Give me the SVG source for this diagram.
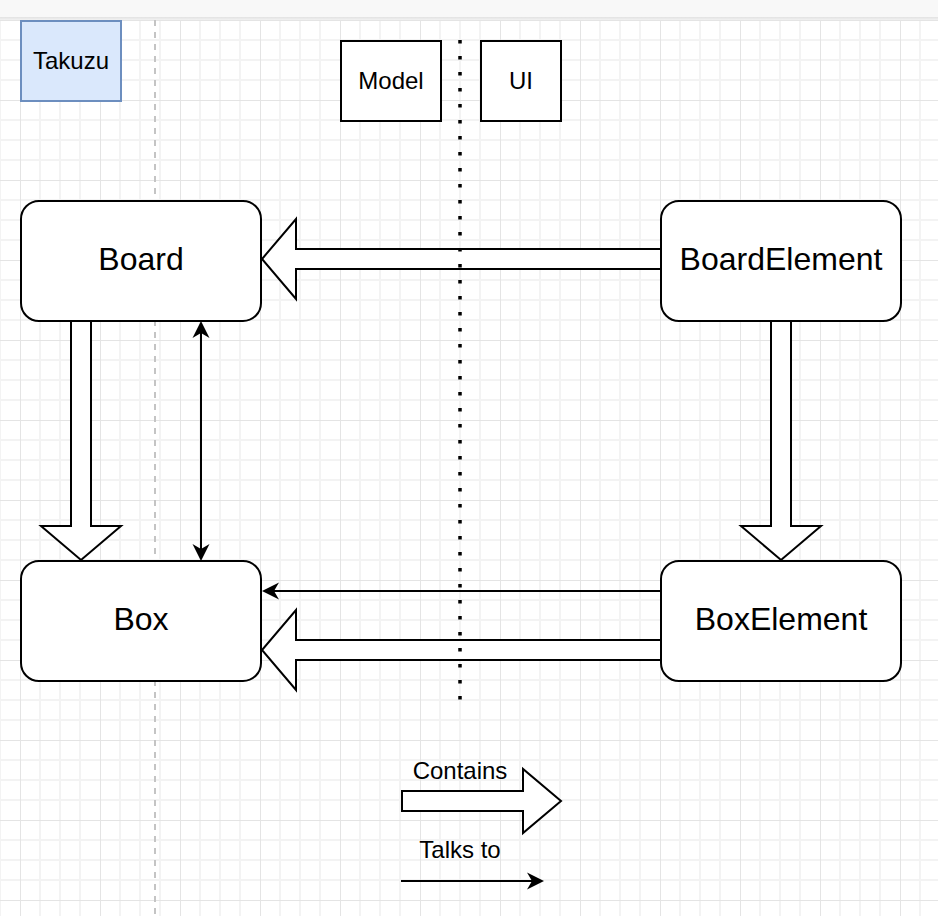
<svg xmlns="http://www.w3.org/2000/svg" width="938" height="916" viewBox="0 0 938 916">
  <style>
    .node { fill: #ffffff; stroke: #000000; stroke-width: 2; }
    .label { font-family: "Liberation Sans", Arial, Helvetica, sans-serif; fill: #000000; text-anchor: middle; }
    .big { font-size: 32px; }
    .small { font-size: 24px; }
    .flex { fill: #ffffff; stroke: #000000; stroke-width: 2; stroke-linejoin: miter; }
    .thin { fill: none; stroke: #000000; stroke-width: 2; }
  </style>
  <defs>
    <pattern id="grid" patternUnits="userSpaceOnUse" x="20" y="20" width="80" height="80">
      <path d="M20,0 V80 M40,0 V80 M60,0 V80 M0,20 H80 M0,40 H80 M0,60 H80" stroke="#f3f3f3" stroke-width="2" fill="none"/>
      <path d="M0,0 V80 M0,0 H80" stroke="#e4e4e4" stroke-width="2" fill="none"/>
    </pattern>
    <linearGradient id="barShade" x1="0" y1="0" x2="0" y2="1">
      <stop offset="0" stop-color="#e2e2e2"/>
      <stop offset="1" stop-color="#f2f2f2"/>
    </linearGradient>
    <marker id="arrow" markerUnits="userSpaceOnUse" markerWidth="18" markerHeight="18" viewBox="0 0 18 18" refX="5" refY="9" orient="auto-start-reverse">
      <path d="M0,0.5 L17,9 L0,17.5 L5,9 Z" fill="#000000"/>
    </marker>
  </defs>

  <!-- background -->
  <rect x="0" y="0" width="938" height="916" fill="#ffffff"/>
  <rect x="0" y="20" width="938" height="896" fill="url(#grid)"/>
  <rect x="0" y="0" width="938" height="17" fill="#f8f8f8"/>
  <rect x="0" y="17" width="938" height="3" fill="url(#barShade)"/>

  <!-- separator behind nodes -->
  <g id="separator-dashed">
    <line x1="155" y1="20" x2="155" y2="916" stroke="#c4c4c4" stroke-width="2" stroke-dasharray="6 6"/>
  </g>

  <!-- connectors -->
  <g id="connectors">
    <!-- BoardElement -> Board (contains) -->
    <polygon class="flex" points="661,249 296,249 296,219 262,259 296,299 296,269 661,269"/>
    <!-- Board -> Box (contains) -->
    <polygon class="flex" points="71,321 71,526 41,526 81,560 121,526 91,526 91,321"/>
    <!-- BoardElement -> BoxElement (contains) -->
    <polygon class="flex" points="771,321 771,526 741,526 781,560 821,526 791,526 791,321"/>
    <!-- BoxElement -> Box (contains) -->
    <polygon class="flex" points="661,640 296,640 296,610 262,650 296,690 296,660 661,660"/>
    <!-- Board <-> Box (talks to) -->
    <line class="thin" x1="201" y1="333" x2="201" y2="549" marker-start="url(#arrow)" marker-end="url(#arrow)"/>
    <!-- BoxElement -> Box (talks to) -->
    <line class="thin" x1="661" y1="591" x2="274" y2="591" marker-end="url(#arrow)"/>
  </g>

  <!-- Model / UI dotted separator (drawn over connectors) -->
  <g id="separator-dotted">
    <line x1="460" y1="40" x2="460" y2="700" stroke="#000000" stroke-width="3.5" stroke-dasharray="3.5 12.5"/>
  </g>

  <!-- nodes -->
  <g id="takuzu">
    <rect x="21" y="21" width="100" height="80" fill="#dae8fc" stroke="#6c8ebf" stroke-width="2"/>
    <text class="label small" x="71" y="69">Takuzu</text>
  </g>
  <g id="model">
    <rect class="node" x="341" y="41" width="100" height="80"/>
    <text class="label small" x="391" y="89">Model</text>
  </g>
  <g id="ui">
    <rect class="node" x="481" y="41" width="80" height="80"/>
    <text class="label small" x="521" y="89">UI</text>
  </g>
  <g id="board">
    <rect class="node" x="21" y="201" width="240" height="120" rx="18" ry="18"/>
    <text class="label big" x="141" y="269.5">Board</text>
  </g>
  <g id="boardElement">
    <rect class="node" x="661" y="201" width="240" height="120" rx="18" ry="18"/>
    <text class="label big" x="781" y="269.5">BoardElement</text>
  </g>
  <g id="box">
    <rect class="node" x="21" y="561" width="240" height="120" rx="18" ry="18"/>
    <text class="label big" x="141" y="629.5">Box</text>
  </g>
  <g id="boxElement">
    <rect class="node" x="661" y="561" width="240" height="120" rx="18" ry="18"/>
    <text class="label big" x="781" y="629.5">BoxElement</text>
  </g>

  <!-- legend -->
  <g id="legend-contains">
    <polygon class="flex" points="402,791 523,791 523,769 561,801 523,833 523,811 402,811"/>
    <text class="label small" x="460" y="779">Contains</text>
  </g>
  <g id="legend-talks">
    <line class="thin" x1="401" y1="881" x2="532" y2="881" marker-end="url(#arrow)"/>
    <text class="label small" x="460" y="858">Talks to</text>
  </g>
</svg>
